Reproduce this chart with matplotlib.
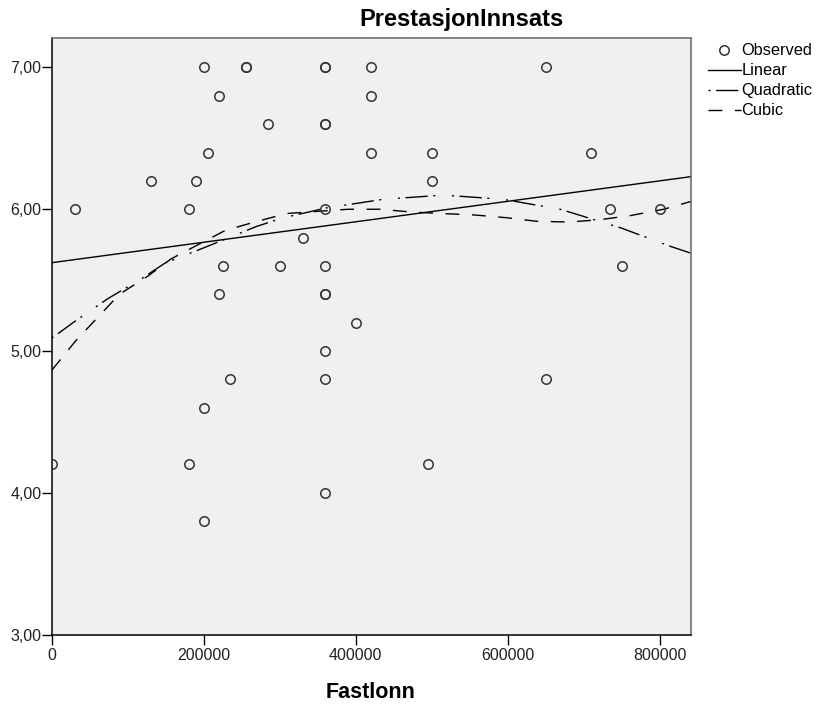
import numpy as np
import matplotlib.pyplot as plt
from matplotlib.lines import Line2D
from matplotlib.ticker import FuncFormatter

plt.rcParams['font.family'] = ['Liberation Sans', 'DejaVu Sans']
plt.rcParams['lines.scale_dashes'] = False

# observed points (Fastlonn, PrestasjonInnsats)
obs_x = [200000, 255000, 255000, 360000, 360000, 420000, 650000,
         220000, 420000,
         285000, 360000, 360000,
         205000, 420000, 500000, 710000,
         130000, 190000, 500000,
         30000, 180000, 360000, 735000, 800000,
         330000,
         225000, 300000, 360000, 750000,
         220000, 360000, 360000,
         400000,
         360000,
         235000, 360000, 650000,
         200000,
         0, 180000, 495000,
         360000,
         200000]
obs_y = [7.0, 7.0, 7.0, 7.0, 7.0, 7.0, 7.0,
         6.8, 6.8,
         6.6, 6.6, 6.6,
         6.4, 6.4, 6.4, 6.4,
         6.2, 6.2, 6.2,
         6.0, 6.0, 6.0, 6.0, 6.0,
         5.8,
         5.6, 5.6, 5.6, 5.6,
         5.4, 5.4, 5.4,
         5.2,
         5.0,
         4.8, 4.8, 4.8,
         4.6,
         4.2, 4.2, 4.2,
         4.0,
         3.8]

# fitted curves
lin_x = [0, 841000]
lin_y = [5.623, 6.23]

quad_x = [0, 28000, 74000, 118000, 149000, 201000, 270000, 305000, 362000,
          436000, 515000, 594000, 669000, 748000, 813000, 841000]
quad_y = [5.09, 5.20, 5.37, 5.51, 5.62, 5.73, 5.88, 5.94, 6.01,
          6.07, 6.10, 6.07, 6.00, 5.87, 5.74, 5.69]

cub_x = [0, 32000, 61000, 89000, 127000, 157000, 228000, 267000, 309000,
         390000, 432000, 474000, 513000, 555000, 599000, 638000, 680000,
         719000, 761000, 805000, 841000]
cub_y = [4.864, 5.075, 5.24, 5.40, 5.53, 5.65, 5.85, 5.91, 5.97,
         6.00, 6.00, 5.98, 5.97, 5.96, 5.94, 5.915, 5.91,
         5.925, 5.955, 6.00, 6.055]

quad_dash = (0, (1.5, 4, 16, 4, 1.5, 12))
cub_dash = (0, (10, 9))

fig = plt.figure(figsize=(8.16, 7.09), dpi=100)
ax = fig.add_axes([0.0634, 0.105, 0.7834, 0.8418])
ax.set_facecolor('#f0f0f0')

ax.plot(obs_x, obs_y, 'o', ms=6.8, mfc='none', mec='#333333', mew=1.1, zorder=3)
ax.plot(lin_x, lin_y, color='black', lw=1.0)
ax.plot(quad_x, quad_y, color='black', lw=1.0, linestyle=quad_dash)
ax.plot(cub_x, cub_y, color='black', lw=1.0, linestyle=cub_dash)

ax.set_xlim(0, 841000)
ax.set_ylim(3.0, 7.21)
ax.set_xticks([0, 200000, 400000, 600000, 800000])
ax.set_yticks([3, 4, 5, 6, 7])
ax.xaxis.set_major_formatter(FuncFormatter(lambda v, p: '%d' % v))
ax.yaxis.set_major_formatter(FuncFormatter(lambda v, p: ('%.2f' % v).replace('.', ',')))
ax.tick_params(axis='both', direction='out', length=7, width=1.0, labelsize=11.5,
               colors='black', labelcolor='#222222')
ax.tick_params(axis='y', pad=0.5)
ax.tick_params(axis='x', pad=3)

for s in ['left', 'bottom']:
    ax.spines[s].set_color('black')
    ax.spines[s].set_linewidth(1.1)
for s in ['top', 'right']:
    ax.spines[s].set_color('#666666')
    ax.spines[s].set_linewidth(1.1)

fig.text(0.5656, 0.9637, 'PrestasjonInnsats', ha='center', va='baseline',
         fontsize=17, fontweight='bold')
fig.text(0.4547, 0.0155, 'Fastlonn', ha='center', va='baseline',
         fontsize=15.5, fontweight='bold')

handles = [
    Line2D([], [], marker='o', linestyle='none', ms=6.8, mfc='none', mec='#333333', mew=1.1),
    Line2D([], [], color='black', lw=1.0),
    Line2D([], [], color='black', lw=1.0, linestyle=quad_dash),
    Line2D([], [], color='black', lw=1.0, linestyle=cub_dash),
]
labels = ['Observed', 'Linear', 'Quadratic', 'Cubic']
fig.legend(handles, labels, loc='upper left', bbox_to_anchor=(0.8676, 0.939),
           frameon=False, fontsize=11.8, handlelength=2.0, handletextpad=0.05,
           labelspacing=0.31, borderpad=0, borderaxespad=0)

fig.savefig('out.png', dpi=100)
